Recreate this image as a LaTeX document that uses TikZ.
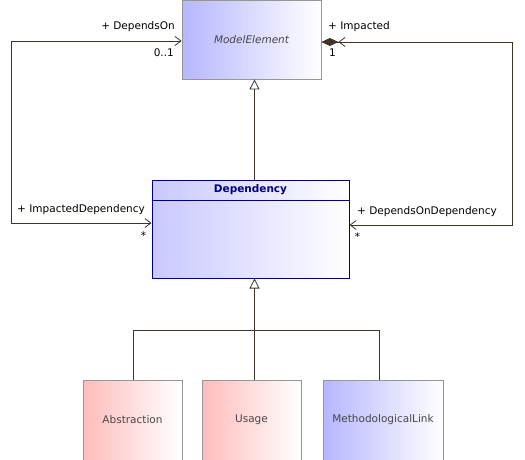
\documentclass[tikz,border=0pt]{standalone}
\usepackage{fontspec}
\setmainfont{DejaVu Sans}
\usetikzlibrary{arrows.meta}
\definecolor{lineclr}{RGB}{64,52,40}
\definecolor{boxgray}{RGB}{150,150,150}
\definecolor{textgray}{RGB}{70,70,70}
\definecolor{blueleft}{RGB}{182,182,255}
\definecolor{pinkleft}{RGB}{255,188,188}
\definecolor{navy}{RGB}{0,0,128}
\tikzstyle{classbox} = [rectangle, draw=boxgray, line width=0.8pt, left color=blueleft, right color=white, text=textgray, font=\fontsize{10.5}{12}\selectfont]
\tikzstyle{pinkbox} = [classbox, left color=pinkleft]
\tikzstyle{depbox} = [classbox, draw=navy, left color=blueleft!75, line width=1pt]
\tikzstyle{role} = [inner sep=0pt, font=\fontsize{10.5}{12}\selectfont]
\tikzstyle{line} = [draw=lineclr, line width=0.8pt]
\tikzstyle{gen} = [line, -{Triangle[open, length=10pt, width=10pt, fill=white]}]

\begin{document}
\begin{tikzpicture}[x=1pt, y=-1pt]
\useasboundingbox (0,0) rectangle (525,460);

% objects
\node (me) at (251.5,39.5) [classbox, minimum width=139pt, minimum height=79pt] {\itshape ModelElement};
\node (dep) at (250.5,229) [depbox, minimum width=197pt, minimum height=98pt] {};
\node (deptitle) at (250.5,190) [font=\fontsize{10.5}{12}\selectfont\bfseries, text=navy] {Dependency};
\draw [navy, line width=1pt] ([yshift=-20.5pt]dep.north west) -- ([yshift=-20.5pt]dep.north east);

\node (abs) at (132.5,420) [pinkbox, minimum width=99pt, minimum height=80pt] {Abstraction};
\node (use) at (251.5,420) [pinkbox, minimum width=99pt, minimum height=80pt] {Usage};
\node (meth) at (383,420) [classbox, minimum width=120pt, minimum height=80pt] {MethodologicalLink};

\coordinate (leftbend) at (11,41);
\coordinate (rightbend) at (512,42);
\coordinate (join) at (254.5,330.5);

% arrows
\draw [gen] ([xshift=4pt]dep.north) -- ([xshift=4pt]dep.north |- me.south);
\draw [gen] (join) -- (join |- dep.south);
\draw [line] ([xshift=0.5pt]abs.north) |- (join);
\draw [line] (use.north -| join) -- (join);
\draw [line] ([xshift=-4pt]meth.north) |- (join);

\draw [line, {Straight Barb[length=6pt, width=9pt]}-{Straight Barb[length=6pt, width=9pt]}] ([yshift=6pt]dep.west) -| (leftbend) -- ([yshift=-1.5pt]me.west);
\draw [line, {Diamond[length=17pt, width=8pt, fill=lineclr] Straight Barb[length=6pt, width=9pt]}-{Straight Barb[length=6pt, width=9pt]}] ([yshift=-2.5pt]me.east) -- (rightbend) |- ([yshift=4pt]dep.east);

% role names
\node (dependson) at (175,30) [role, anchor=base east] {+ DependsOn};
\node (dependsonmult) at (174,57) [role, anchor=base east] {0..1};
\node (impacted) at (328,30) [role, anchor=base west] {+ Impacted};
\node (impactedmult) at (329,57) [role, anchor=base west] {1};
\node (impdep) at (17,212) [role, anchor=base west] {+ ImpactedDependency};
\node (impdepmult) at (143.5,239) [role, anchor=base] {*};
\node (depdep) at (357,214) [role, anchor=base west] {+ DependsOnDependency};
\node (depdepmult) at (357.5,240.5) [role, anchor=base] {*};

\end{tikzpicture}
\end{document}
